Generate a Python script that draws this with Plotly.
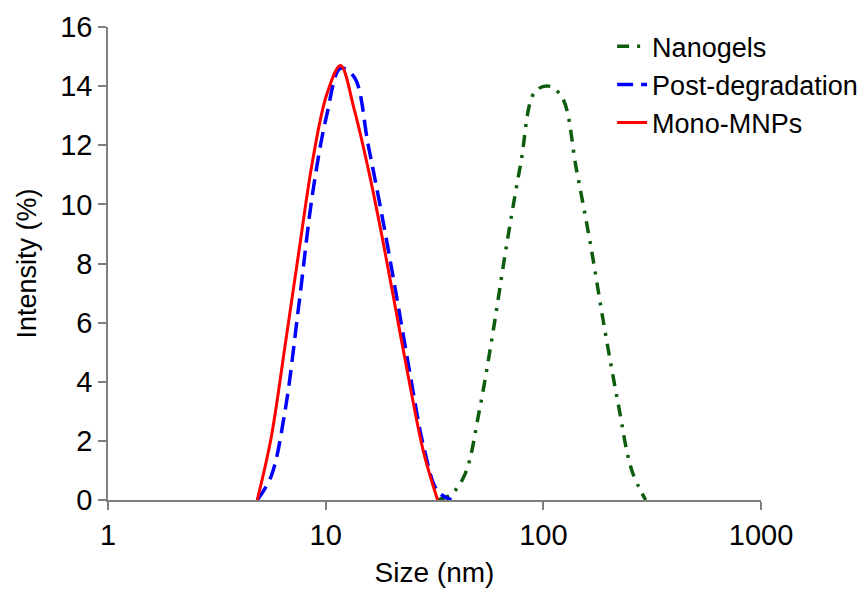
import plotly.graph_objects as go

# Size bins (nm) and intensity distributions (%) for each sample
nanogel_size = [32.67, 37.84, 43.82, 50.75, 58.77, 68.06, 78.82, 91.28, 105.7,
                122.4, 141.8, 164.2, 190.1, 220.2, 255.0, 295.3]
nanogel_intensity = [0, 0.2, 0.9, 3.0, 5.7, 8.7, 11.4, 13.8, 14.0,
                     13.6, 11.2, 8.7, 5.9, 3.3, 1.0, 0]

postdeg_size = [4.849, 5.615, 6.503, 7.531, 8.721, 10.10, 11.70, 13.54,
                15.69, 18.17, 21.04, 24.36, 28.21, 32.67, 37.84]
postdeg_intensity = [0, 0.8, 3.0, 6.6, 10.4, 13.0, 14.6, 14.3,
                     12.0, 9.6, 7.0, 4.3, 1.8, 0.3, 0]

mono_size = [4.849, 5.615, 6.503, 7.531, 8.721, 10.10, 11.70, 13.54,
             15.69, 18.17, 21.04, 24.36, 28.21, 32.67]
mono_intensity = [0, 2.1, 5.2, 8.4, 11.5, 13.7, 14.7, 13.2,
                  11.2, 8.9, 6.4, 3.9, 1.6, 0]

x_ticks = [1, 10, 100, 1000]
y_ticks = [0, 2, 4, 6, 8, 10, 12, 14, 16]

FONT = "Arial, Liberation Sans, sans-serif"
AXIS_GRAY = "#7f7f7f"

fig = go.Figure()
fig.add_trace(go.Scatter(
    x=nanogel_size, y=nanogel_intensity, name="Nanogels", mode="lines",
    line=dict(color="#0e5c0e", width=3.5, dash="12px,8px,3px,8px", shape="spline"),
    legendgroup="a",
))
fig.add_trace(go.Scatter(
    x=postdeg_size, y=postdeg_intensity, name="Post-degradation", mode="lines",
    line=dict(color="#0000ff", width=3.5, dash="16px,8px", shape="spline"),
    legendgroup="b",
))
fig.add_trace(go.Scatter(
    x=mono_size, y=mono_intensity, name="Mono-MNPs", mode="lines",
    line=dict(color="#ff0000", width=3, shape="spline"),
    legendgroup="c",
))

fig.update_layout(
    width=863, height=591,
    margin=dict(l=108, r=102, t=27, b=91, autoexpand=False),
    paper_bgcolor="white", plot_bgcolor="white",
    font=dict(family=FONT, size=27, color="black"),
    showlegend=True,
    legend=dict(
        x=0.772, y=1.01, xanchor="left", yanchor="top",
        bgcolor="rgba(0,0,0,0)", font=dict(size=27),
        tracegroupgap=7, traceorder="normal",
    ),
    xaxis=dict(
        type="log", range=[0, 3], automargin=False,
        tickvals=x_ticks, ticktext=[str(v) for v in x_ticks],
        showgrid=False, zeroline=False,
        showline=True, linecolor=AXIS_GRAY, linewidth=1.5,
        ticks="outside", ticklen=8, tickcolor=AXIS_GRAY, tickwidth=1.5,
        tickfont=dict(size=29),
        title=dict(text="Size (nm)", font=dict(size=28), standoff=13),
    ),
    yaxis=dict(
        range=[0, 16], tickvals=y_ticks, automargin=False,
        showgrid=False, zeroline=False,
        showline=True, linecolor=AXIS_GRAY, linewidth=1.5,
        ticks="outside", ticklen=8, tickcolor=AXIS_GRAY, tickwidth=1.5,
        tickfont=dict(size=29),
        title=dict(text="Intensity (%)", font=dict(size=27), standoff=16),
    ),
)

fig.write_html("out.html")
